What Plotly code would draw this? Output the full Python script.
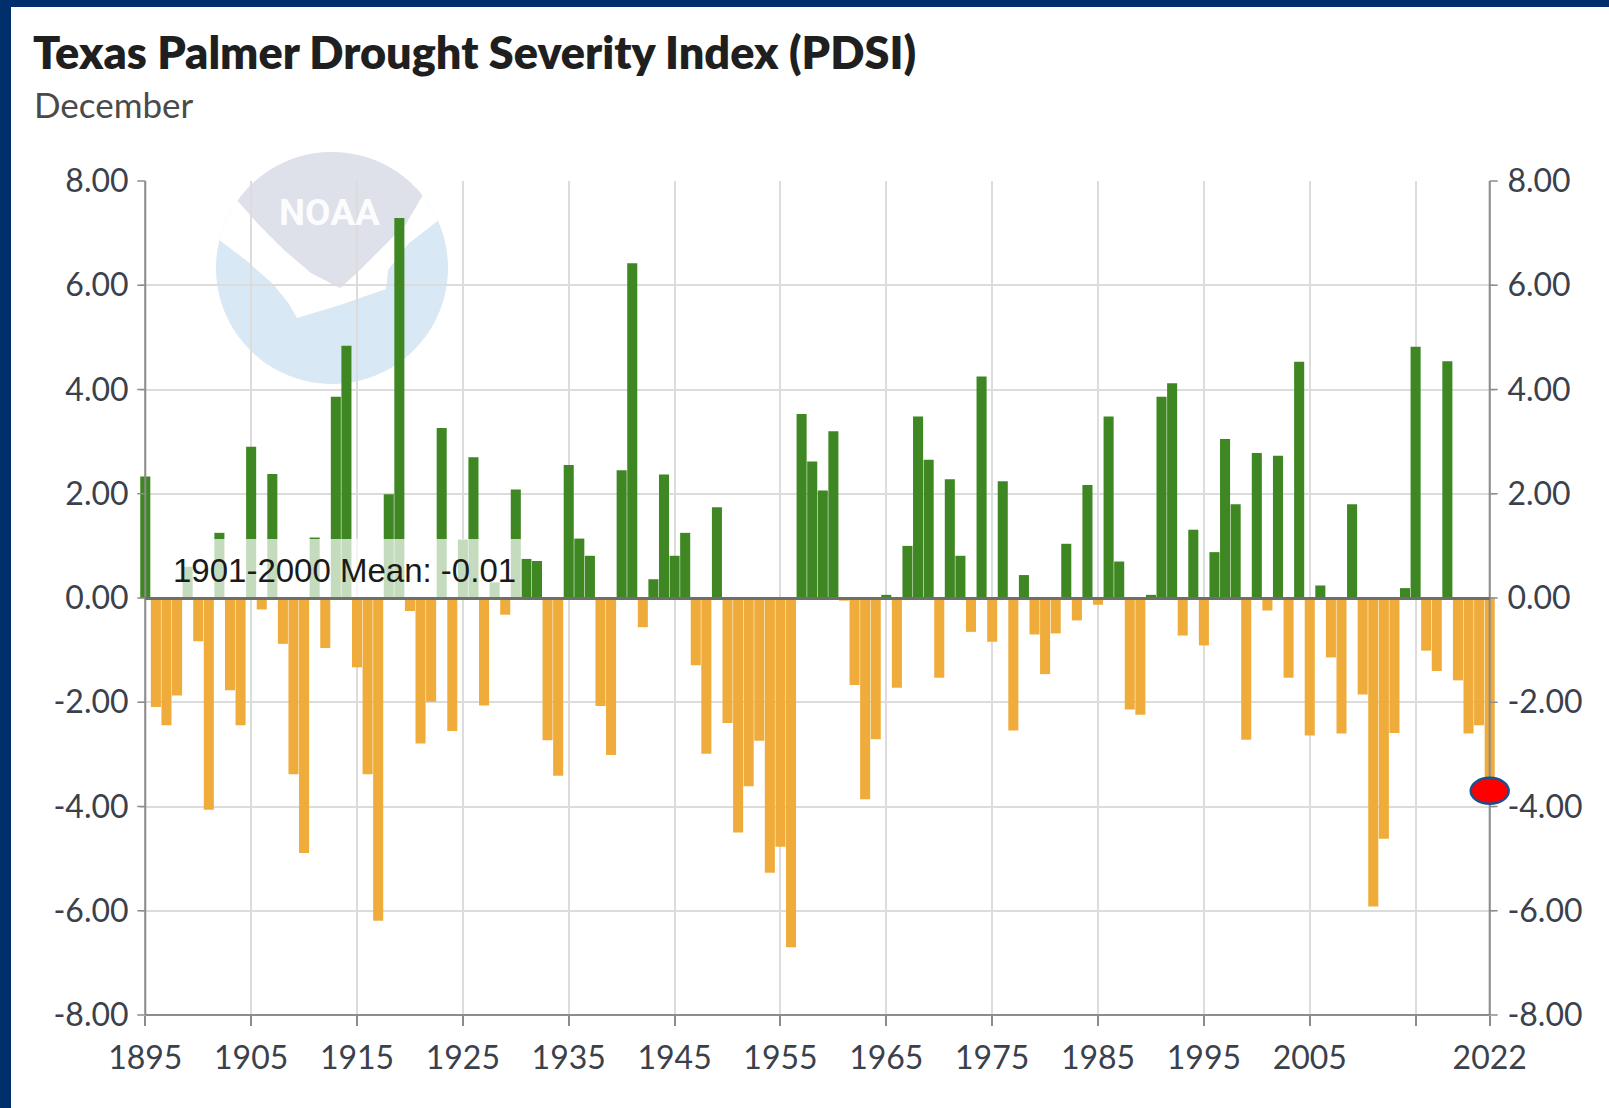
import math
import plotly.graph_objects as go

# ---------------- data ----------------
years = list(range(1895, 2023))
pdsi = [
    2.33, -2.09, -2.44, -1.87, 0.60, -0.83, -4.06, 1.25, -1.77, -2.44,   # 1895-1904
    2.90, -0.22, 2.38, -0.88, -3.38, -4.89, 1.16, -0.96, 3.86, 4.84,     # 1905-1914
    -1.33, -3.38, -6.19, 1.99, 7.29, -0.25, -2.79, -1.99, 3.26, -2.55,   # 1915-1924
    1.12, 2.70, -2.06, 0.30, -0.32, 2.08, 0.75, 0.71, -2.73, -3.41,      # 1925-1934
    2.55, 1.14, 0.81, -2.07, -3.01, 2.45, 6.42, -0.56, 0.36, 2.37,       # 1935-1944
    0.81, 1.25, -1.29, -2.99, 1.74, -2.40, -4.50, -3.61, -2.74, -5.27,   # 1945-1954
    -4.77, -6.70, 3.53, 2.62, 2.06, 3.20, -0.05, -1.67, -3.86, -2.71,    # 1955-1964
    0.06, -1.72, 1.00, 3.48, 2.65, -1.53, 2.28, 0.81, -0.65, 4.25,       # 1965-1974
    -0.84, 2.24, -2.54, 0.44, -0.70, -1.46, -0.68, 1.04, -0.43, 2.17,    # 1975-1984
    -0.13, 3.48, 0.70, -2.14, -2.24, 0.06, 3.86, 4.12, -0.72, 1.31,      # 1985-1994
    -0.91, 0.88, 3.05, 1.80, -2.72, 2.78, -0.24, 2.73, -1.53, 4.53,      # 1995-2004
    -2.64, 0.24, -1.14, -2.60, 1.80, -1.85, -5.92, -4.62, -2.59, 0.19,   # 2005-2014
    4.82, -1.01, -1.40, 4.54, -1.58, -2.60, -2.44, -3.70,                # 2015-2022
]
mean_1901_2000 = -0.01
x_tickvals = [1895, 1905, 1915, 1925, 1935, 1945, 1955, 1965, 1975, 1985, 1995, 2005, 2015, 2022]
x_ticktext = ["1895", "1905", "1915", "1925", "1935", "1945", "1955", "1965", "1975", "1985", "1995", "2005", "", "2022"]
y_tickvals = [-8, -6, -4, -2, 0, 2, 4, 6, 8]
y_ticktext = ["-8.00", "-6.00", "-4.00", "-2.00", "0.00", "2.00", "4.00", "6.00", "8.00"]
title_text = "Texas Palmer Drought Severity Index (PDSI)"
subtitle_text = "December"
mean_label = "1901-2000 Mean: -0.01"

# ---------------- styling ----------------
GREEN = "#3e8722"
ORANGE = "#f0ac3b"
GRID = "#dcdcdc"
AXIS = "#8c8c8c"
LABEL = "#3b414c"
NAVY = "#002f6c"

W, H = 1609, 1108
ML, MR, MT, MB = 140, 114, 181, 93
PW, PH = W - ML - MR, H - MT - MB
XR = [1894.5, 2022.5]
YR = [-8, 8]


def px2x(px):
    return (px - ML) / PW


def py2y(py):
    return (H - MB - py) / PH


def dx2p(v):  # data x -> paper
    return (v - XR[0]) / (XR[1] - XR[0])


def dy2p(v):  # data y -> paper
    return (v - YR[0]) / (YR[1] - YR[0])


colors = [GREEN if v >= 0 else ORANGE for v in pdsi]

fig = go.Figure()
fig.add_trace(go.Bar(
    x=years, y=pdsi, marker=dict(color=colors, line=dict(width=0)),
    hoverinfo="skip", showlegend=False,
))
# invisible trace to activate the right-hand axis
fig.add_trace(go.Scatter(x=[years[0]], y=[0], yaxis="y2", mode="markers",
                         marker=dict(opacity=0), hoverinfo="skip", showlegend=False))

shapes = []

# ---- NOAA watermark logo (pixel geometry -> paper) ----
cx, cy, r = 332, 268, 116


def arc(a0, a1, n=40):
    pts = []
    for i in range(n + 1):
        a = math.radians(a0 + (a1 - a0) * i / n)
        pts.append((cx + r * math.cos(a), cy - r * math.sin(a)))
    return pts


def path_from(pts):
    return "M " + " L ".join(f"{px2x(px):.5f},{py2y(py):.5f}" for px, py in pts) + " Z"


shapes.append(dict(type="path", xref="paper", yref="paper", path=path_from(arc(0, 360, 90)),
                   fillcolor="#d9e8f5", line=dict(width=0), layer="below"))
white_pts = arc(166, 24, 40) + [(408, 244), (388, 270), (386, 289), (340, 305), (297, 318),
                                (289, 304), (273, 284), (247, 261)]
shapes.append(dict(type="path", xref="paper", yref="paper", path=path_from(white_pts),
                   fillcolor="#ffffff", line=dict(width=0), layer="below"))
grey_pts = arc(144.5, 38.7, 40) + [(406, 224), (380, 250), (357, 273), (340, 288),
                                    (311, 273), (284, 250), (257, 223)]
shapes.append(dict(type="path", xref="paper", yref="paper", path=path_from(grey_pts),
                   fillcolor="#dee0ea", line=dict(width=0), layer="below"))

# ---- translucent label box behind mean text ----
shapes.append(dict(type="rect", xref="x", yref="y", x0=1895.55, x1=1930.55, y0=0, y1=1.13,
                   fillcolor="rgba(255,255,255,0.7)", line=dict(width=0), layer="above"))

# ---- axis lines ----
xl, xr = dx2p(years[0]), dx2p(years[-1])
shapes.append(dict(type="line", xref="paper", yref="paper", x0=xl, x1=xl, y0=0, y1=1,
                   line=dict(color=AXIS, width=2), layer="above"))
shapes.append(dict(type="line", xref="paper", yref="paper", x0=xr, x1=xr, y0=0, y1=1,
                   line=dict(color=AXIS, width=2), layer="above"))
shapes.append(dict(type="line", xref="paper", yref="paper", x0=xl, x1=xr, y0=0, y1=0,
                   line=dict(color=AXIS, width=2), layer="above"))
for v in y_tickvals:
    yp = dy2p(v)
    shapes.append(dict(type="line", xref="paper", yref="paper", xsizemode="pixel", xanchor=xl,
                       x0=-8, x1=0, y0=yp, y1=yp, line=dict(color=AXIS, width=1.5), layer="above"))
    shapes.append(dict(type="line", xref="paper", yref="paper", xsizemode="pixel", xanchor=xr,
                       x0=0, x1=8, y0=yp, y1=yp, line=dict(color=AXIS, width=1.5), layer="above"))

# ---- mean line ----
shapes.append(dict(type="line", xref="paper", yref="y", x0=xl, x1=xr,
                   y0=mean_1901_2000, y1=mean_1901_2000,
                   line=dict(color="#6e6e6e", width=3), layer="above"))

# ---- red marker on latest value ----
shapes.append(dict(type="circle", xref="paper", yref="paper", xsizemode="pixel", ysizemode="pixel",
                   xanchor=dx2p(years[-1]), yanchor=dy2p(pdsi[-1]), x0=-19, x1=19, y0=-13, y1=13,
                   fillcolor="#ff0000", line=dict(color="#1d4f8f", width=2.5), layer="above"))

# ---- navy frame ----
shapes.append(dict(type="rect", xref="paper", yref="paper", x0=px2x(0), x1=px2x(11),
                   y0=py2y(H), y1=py2y(0), fillcolor=NAVY, line=dict(width=0), layer="above"))
shapes.append(dict(type="rect", xref="paper", yref="paper", x0=px2x(0), x1=px2x(W),
                   y0=py2y(7), y1=py2y(0), fillcolor=NAVY, line=dict(width=0), layer="above"))

annotations = [
    dict(text=title_text, xref="paper", yref="paper", x=px2x(31), y=py2y(52),
         xanchor="left", yanchor="middle", showarrow=False,
         font=dict(family="Lato", size=45, color="#1f1f1f", weight=800)),
    dict(text=subtitle_text, xref="paper", yref="paper", x=px2x(32), y=py2y(104),
         xanchor="left", yanchor="middle", showarrow=False,
         font=dict(family="Lato", size=35, color="#4a4a4a")),
    dict(text=mean_label, xref="x", yref="y", x=1913.84, y=0.53,
         xanchor="center", yanchor="middle", showarrow=False,
         font=dict(family="Liberation Sans", size=33, color="#1a1a1a")),
    dict(text="NOAA", xref="paper", yref="paper", x=px2x(329), y=py2y(212),
         xanchor="center", yanchor="middle", showarrow=False,
         font=dict(family="Roboto", size=37, color="rgba(255,255,255,0.92)", weight=700)),
]

tickfont = dict(family="Lato", size=32, color=LABEL)
fig.update_layout(
    width=W, height=H,
    margin=dict(l=ML, r=MR, t=MT, b=MB, pad=0),
    paper_bgcolor="white", plot_bgcolor="rgba(0,0,0,0)",
    bargap=0.05,
    showlegend=False,
    xaxis=dict(range=XR, tickmode="array", tickvals=x_tickvals, ticktext=x_ticktext,
               showgrid=True, gridcolor=GRID, gridwidth=1.5, zeroline=False, showline=False,
               ticks="outside", ticklen=10, tickwidth=1.5, tickcolor=AXIS, tickfont=tickfont,
               ticklabelstandoff=5, fixedrange=True),
    yaxis=dict(range=YR, tickmode="array", tickvals=y_tickvals, ticktext=y_ticktext,
               showgrid=True, gridcolor=GRID, gridwidth=1.5, zeroline=False, showline=False,
               ticks="outside", ticklen=4, tickcolor="rgba(0,0,0,0)", tickfont=tickfont,
               fixedrange=True),
    yaxis2=dict(range=YR, overlaying="y", side="right", tickmode="array",
                tickvals=y_tickvals, ticktext=y_ticktext, showgrid=False, zeroline=False,
                showline=False, ticks="outside", ticklen=5, tickcolor="rgba(0,0,0,0)",
                tickfont=tickfont, fixedrange=True),
    shapes=shapes,
    annotations=annotations,
)

fig.write_html(
    "out.html",
    config={"displayModeBar": False},
    post_script="document.body.style.margin='0';document.body.style.overflow='hidden';",
)
